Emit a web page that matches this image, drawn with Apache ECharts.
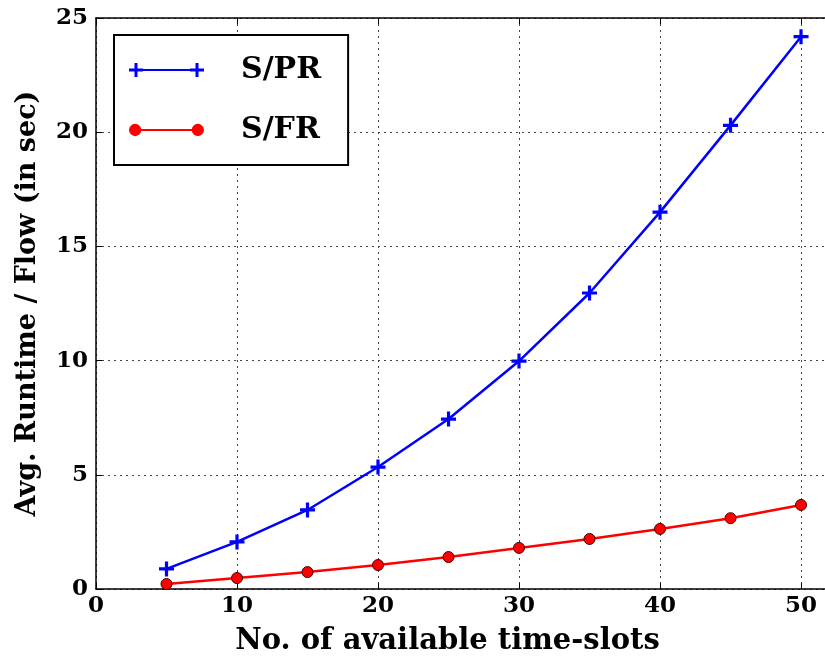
<!DOCTYPE html>
<html>
<head>
<meta charset="utf-8">
<script src="https://cdn.jsdelivr.net/npm/echarts@6/dist/echarts.min.js"></script>
<style>
  html, body { margin: 0; padding: 0; background: #fff; }
  #chart { width: 825px; height: 656px; }
</style>
</head>
<body>
<div id="chart"></div>
<script>
// values
const slots = [5, 10, 15, 20, 25, 30, 35, 40, 45, 50];
const spr = [0.88, 2.06, 3.46, 5.34, 7.44, 9.98, 12.96, 16.5, 20.3, 24.18];
const sfr = [0.22, 0.48, 0.74, 1.05, 1.4, 1.8, 2.19, 2.63, 3.1, 3.68];

const font = '"DejaVu Serif", "Liberation Serif", serif';

// legend icons: line with a marker on each end, like matplotlib
const crossIcon = 'path://M7,6H68V8H7Z M5.5,0H8.5V14H5.5Z M0,5.5H14V8.5H0Z M66.5,0H69.5V14H66.5Z M61,5.5H75V8.5H61Z';
const dotIcon = 'path://M7,6H68V8H7Z M1,7A6,6 0 1,1 13,7A6,6 0 1,1 1,7Z M62,7A6,6 0 1,1 74,7A6,6 0 1,1 62,7Z';

const chart = echarts.init(document.getElementById('chart'));

const tickLabel = {
  color: '#000',
  fontFamily: font,
  fontWeight: 'bold',
  fontSize: 23,
};

chart.setOption({
  animation: false,
  backgroundColor: '#fff',
  grid: { left: 96, top: 18, right: 0, bottom: 67, outerBoundsMode: 'none', containLabel: false },
  legend: {
    left: 114,
    top: 35,
    orient: 'vertical',
    backgroundColor: '#fff',
    borderColor: '#000',
    borderWidth: 2,
    borderRadius: 0,
    padding: [20, 27, 20, 15],
    itemWidth: 75,
    itemHeight: 14,
    itemGap: 30,
    textStyle: {
      color: '#000',
      fontFamily: font,
      fontWeight: 'bold',
      fontSize: 30,
      padding: [0, 0, 0, 32],
    },
    data: [
      { name: 'S/PR', icon: crossIcon, itemStyle: { borderWidth: 0 } },
      { name: 'S/FR', icon: dotIcon, itemStyle: { borderWidth: 0 } },
    ],
  },
  xAxis: [
    {
      type: 'value',
      min: 0,
      max: 51.7,
      interval: 10,
      name: 'No. of available time-slots',
      nameLocation: 'middle',
      nameGap: 38,
      nameTextStyle: {
        color: '#000',
        fontFamily: font,
        fontWeight: 'bold',
        fontSize: 29,
        padding: [0, 26, 0, 0],
      },
      axisLine: { show: true, lineStyle: { color: '#000', width: 1.5 } },
      axisTick: { show: true, inside: true, length: 6, lineStyle: { color: '#000' } },
      axisLabel: {
        ...tickLabel,
        margin: 6,
        showMaxLabel: false,
        formatter: (v) => (v % 10 === 0 ? v : ''),
      },
      splitLine: { show: true, lineStyle: { color: '#444', type: [2, 4], width: 1 } },
    },
    {
      type: 'value',
      position: 'top',
      min: 0,
      max: 51.7,
      interval: 10,
      axisLine: { show: true, lineStyle: { color: '#000', width: 1.5 } },
      axisTick: { show: true, inside: true, length: 6, lineStyle: { color: '#000' } },
      axisLabel: { show: false },
      splitLine: { show: false },
    },
  ],
  yAxis: {
    type: 'value',
    min: 0,
    max: 25,
    interval: 5,
    name: 'Avg. Runtime / Flow (in sec)',
    nameLocation: 'middle',
    nameGap: 55,
    nameTextStyle: {
      color: '#000',
      fontFamily: font,
      fontWeight: 'bold',
      fontSize: 27,
    },
    axisLine: { show: true, lineStyle: { color: '#000', width: 1.5 } },
    axisTick: { show: true, inside: true, length: 6, lineStyle: { color: '#000' } },
    axisLabel: { ...tickLabel, margin: 8 },
    splitLine: { show: true, lineStyle: { color: '#444', type: [2, 4], width: 1 } },
  },
  series: [
    {
      name: 'S/PR',
      type: 'line',
      data: slots.map((x, i) => [x, spr[i]]),
      color: '#0000ff',
      lineStyle: { width: 2.5, color: '#0000ff' },
      symbol: 'path://M5.5,0H8.5V14H5.5Z M0,5.5H14V8.5H0Z',
      symbolSize: 15,
      itemStyle: { color: '#0000ff' },
    },
    {
      name: 'S/FR',
      type: 'line',
      data: slots.map((x, i) => [x, sfr[i]]),
      color: '#ff0000',
      lineStyle: { width: 2.5, color: '#ff0000' },
      symbol: 'circle',
      symbolSize: 11,
      itemStyle: { color: '#ff0000', borderColor: '#400', borderWidth: 1 },
    },
  ],
});
</script>
</body>
</html>
